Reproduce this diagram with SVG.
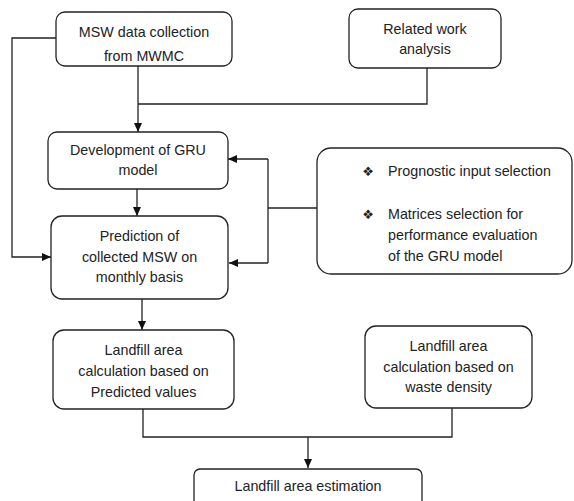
<svg xmlns="http://www.w3.org/2000/svg" width="574" height="501" viewBox="0 0 574 501">
  <style>
    .box { fill: #ffffff; stroke: #222222; stroke-width: 1.3; }
    .lbl { font-family: "Liberation Sans", Arial, sans-serif; font-size: 14.3px; fill: #222222; text-anchor: middle; }
    .lft { font-family: "Liberation Sans", Arial, sans-serif; font-size: 14.3px; fill: #222222; }
    .bul { font-family: "DejaVu Sans", sans-serif; font-size: 13px; fill: #222222; text-anchor: middle; }
    .wire { fill: none; stroke: #222222; stroke-width: 1.3; }
  </style>
  <defs>
    <marker id="arrow" markerWidth="10" markerHeight="9" refX="9" refY="4.5" orient="auto" markerUnits="userSpaceOnUse">
      <path d="M0,0.5 L9,4.5 L0,8.5 Z" fill="#111111"/>
    </marker>
  </defs>
  <rect width="574" height="501" fill="#ffffff"/>

  <g id="connectors">
    <!-- data collection down to GRU development -->
    <path class="wire" d="M138,66 V132" marker-end="url(#arrow)"/>
    <!-- related work joins the same path -->
    <path class="wire" d="M138,104 H427 V68"/>
    <!-- data collection feeds prediction directly -->
    <path class="wire" d="M56,38 H12 V257 H51" marker-end="url(#arrow)"/>
    <!-- GRU development to prediction -->
    <path class="wire" d="M137,189 V216" marker-end="url(#arrow)"/>
    <!-- selection box bracket back into both nodes -->
    <path class="wire" d="M317,208 H268"/>
    <path class="wire" d="M268,159 V263"/>
    <path class="wire" d="M268,159 H228" marker-end="url(#arrow)"/>
    <path class="wire" d="M268,263 H229" marker-end="url(#arrow)"/>
    <!-- prediction to landfill calculation -->
    <path class="wire" d="M142,299 V330" marker-end="url(#arrow)"/>
    <!-- both calculations merge into estimation -->
    <path class="wire" d="M143,409 V437 H452 V408"/>
    <path class="wire" d="M308,437 V468" marker-end="url(#arrow)"/>
  </g>

  <g id="msw-collection">
    <rect class="box" x="56" y="12" width="176" height="54" rx="9"/>
    <text class="lbl" x="144" y="37">MSW data collection</text>
    <text class="lbl" x="144" y="61">from MWMC</text>
  </g>

  <g id="related-work">
    <rect class="box" x="349" y="9" width="152" height="59" rx="9"/>
    <text class="lbl" x="425" y="34">Related work</text>
    <text class="lbl" x="425" y="54">analysis</text>
  </g>

  <g id="gru-development">
    <rect class="box" x="48" y="132" width="180" height="57" rx="9"/>
    <text class="lbl" x="138" y="155">Development of GRU</text>
    <text class="lbl" x="138" y="175">model</text>
  </g>

  <g id="prediction">
    <rect class="box" x="51" y="216" width="177" height="83" rx="11"/>
    <text class="lbl" x="139.5" y="241">Prediction of</text>
    <text class="lbl" x="139.5" y="262">collected MSW on</text>
    <text class="lbl" x="139.5" y="282">monthly basis</text>
  </g>

  <g id="selection">
    <rect class="box" x="317" y="148" width="255" height="126" rx="14"/>
    <text class="bul" x="368" y="176">❖</text>
    <text class="lft" x="388" y="176">Prognostic input selection</text>
    <text class="bul" x="368" y="219">❖</text>
    <text class="lft" x="388" y="219">Matrices selection for</text>
    <text class="lft" x="388" y="240">performance evaluation</text>
    <text class="lft" x="388" y="261">of the GRU model</text>
  </g>

  <g id="landfill-predicted">
    <rect class="box" x="53" y="330" width="181" height="79" rx="11"/>
    <text class="lbl" x="143.5" y="355">Landfill area</text>
    <text class="lbl" x="143.5" y="376">calculation based on</text>
    <text class="lbl" x="143.5" y="397">Predicted values</text>
  </g>

  <g id="landfill-density">
    <rect class="box" x="365" y="326" width="167" height="82" rx="11"/>
    <text class="lbl" x="448.5" y="351">Landfill area</text>
    <text class="lbl" x="448.5" y="372">calculation based on</text>
    <text class="lbl" x="448.5" y="392">waste density</text>
  </g>

  <g id="landfill-estimation">
    <rect class="box" x="194" y="469" width="228" height="40" rx="6"/>
    <text class="lbl" x="308" y="491">Landfill area estimation</text>
  </g>
</svg>
